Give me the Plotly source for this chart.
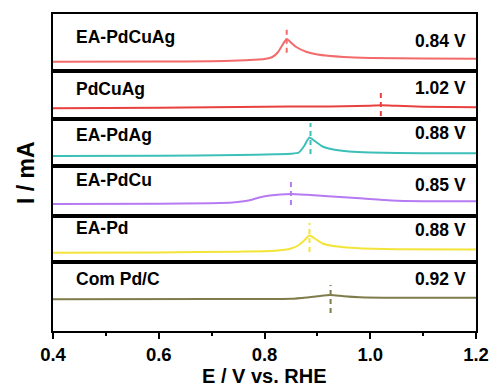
import plotly.graph_objects as go
from plotly.subplots import make_subplots

# ---- data (potential in V vs. RHE, current in arbitrary mA units, offset per panel) ----
samples = ["EA-PdCuAg", "PdCuAg", "EA-PdAg", "EA-PdCu", "EA-Pd", "Com Pd/C"]
peak_labels = ["0.84 V", "1.02 V", "0.88 V", "0.85 V", "0.88 V", "0.92 V"]
peak_potentials = [0.842, 1.02, 0.887, 0.85, 0.885, 0.925]
colors = ["#F26A6A", "#E8413F", "#3DBFB9", "#B67BF2", "#F4E43A", "#7F7C4B"]

e_ea_pdcuag = [0.40, 0.60, 0.70, 0.75, 0.78, 0.80, 0.815, 0.825, 0.835, 0.842, 0.85, 0.86, 0.88, 0.90, 0.95, 1.00, 1.10, 1.20]
i_ea_pdcuag = [0.93, 0.95, 0.98, 1.05, 1.12, 1.20, 1.40, 1.85, 2.70, 3.20, 2.85, 2.40, 1.90, 1.65, 1.40, 1.30, 1.25, 1.23]

e_pdcuag = [0.40, 0.60, 0.70, 0.80, 0.90, 0.95, 1.00, 1.02, 1.05, 1.10, 1.20]
i_pdcuag = [1.07, 1.12, 1.17, 1.23, 1.25, 1.27, 1.33, 1.37, 1.32, 1.23, 1.17]

e_ea_pdag = [0.40, 0.60, 0.75, 0.82, 0.85, 0.865, 0.875, 0.885, 0.895, 0.91, 0.93, 0.96, 1.00, 1.10, 1.20]
i_ea_pdag = [1.00, 1.02, 1.10, 1.17, 1.22, 1.35, 2.00, 2.85, 2.50, 1.95, 1.65, 1.45, 1.35, 1.28, 1.27]

e_ea_pdcu = [0.40, 0.60, 0.70, 0.74, 0.77, 0.79, 0.81, 0.85, 0.88, 0.92, 0.98, 1.04, 1.10, 1.20]
i_ea_pdcu = [1.20, 1.23, 1.28, 1.35, 1.55, 1.85, 2.05, 2.20, 2.12, 1.97, 1.77, 1.55, 1.48, 1.48]

e_ea_pd = [0.40, 0.60, 0.75, 0.82, 0.85, 0.865, 0.875, 0.885, 0.895, 0.91, 0.93, 0.98, 1.05, 1.20]
i_ea_pd = [0.93, 0.96, 1.03, 1.12, 1.35, 1.70, 2.15, 2.65, 2.35, 1.85, 1.60, 1.37, 1.28, 1.25]

e_com_pdc = [0.40, 0.70, 0.85, 0.88, 0.90, 0.925, 0.95, 0.98, 1.05, 1.20]
i_com_pdc = [3.17, 3.20, 3.22, 3.35, 3.47, 3.60, 3.47, 3.37, 3.32, 3.33]

# dashed peak markers: [low, high] current span
marker_spans = [[1.83, 4.43], [0.30, 3.00], [1.20, 4.30], [1.10, 3.80], [1.00, 3.90], [1.80, 4.60]]
panel_ranges = [5.7, 4.8, 4.7, 5.0, 4.6, 6.9]
label_y = [0.60, 0.62, 0.67, 0.72, 0.73, 0.75]
value_y = [0.53, 0.64, 0.70, 0.62, 0.70, 0.75]

x_ticks = [0.4, 0.6, 0.8, 1.0, 1.2]
x_tick_text = ["0.4", "0.6", "0.8", "1.0", "1.2"]

curves = [
    (e_ea_pdcuag, i_ea_pdcuag),
    (e_pdcuag, i_pdcuag),
    (e_ea_pdag, i_ea_pdag),
    (e_ea_pdcu, i_ea_pdcu),
    (e_ea_pd, i_ea_pd),
    (e_com_pdc, i_com_pdc),
]

FONT = "Liberation Sans, Arial, sans-serif"

fig = make_subplots(rows=6, cols=1, shared_xaxes=True, vertical_spacing=0,
                    row_heights=panel_ranges)

for k, ((ex, iy), name, col, pk, span) in enumerate(zip(curves, samples, colors, peak_potentials, marker_spans)):
    r = k + 1
    fig.add_trace(go.Scatter(x=ex, y=iy, mode="lines", name=name,
                             line=dict(color=col, width=2, shape="spline", smoothing=0.6),
                             showlegend=False), row=r, col=1)
    fig.add_trace(go.Scatter(x=[pk, pk], y=span, mode="lines",
                             line=dict(color=col, width=2, dash="5px,4px"),
                             showlegend=False), row=r, col=1)
    fig.update_yaxes(range=[0, panel_ranges[k]], showticklabels=False, ticks="",
                     showgrid=False, zeroline=False, showline=True, mirror=True,
                     linecolor="black", linewidth=1.6, row=r, col=1)
    xs = "" if r == 1 else str(r)
    fig.add_annotation(xref=f"x{xs} domain", yref=f"y{xs} domain", x=0.05, y=label_y[k],
                       text=f"<b>{name}</b>", showarrow=False, xanchor="left", yanchor="middle",
                       font=dict(family=FONT, size=17.5, color="black"))
    fig.add_annotation(xref=f"x{xs} domain", yref=f"y{xs} domain", x=0.981, y=value_y[k],
                       text=f"<b>{peak_labels[k]}</b>", showarrow=False, xanchor="right", yanchor="middle",
                       font=dict(family=FONT, size=17.5, color="black"))

fig.update_xaxes(range=[0.4, 1.2], showgrid=False, zeroline=False, showline=True, mirror=True,
                 linecolor="black", linewidth=1.6, showticklabels=False, ticks="")
fig.update_xaxes(row=6, col=1, showticklabels=True, ticks="outside", ticklen=6, tickwidth=1.5,
                 tickcolor="black", tickvals=x_ticks, ticktext=x_tick_text,
                 tickfont=dict(family=FONT, size=18.5, color="black", weight="bold"),
                 ticklabelstandoff=0,
                 minor=dict(ticks="outside", ticklen=3, tickwidth=1.5, tickcolor="black", dtick=0.1, showgrid=False))

fig.add_annotation(xref="paper", yref="paper", x=0.5, y=-0.143, text="<b>E / V vs. RHE</b>",
                   showarrow=False, xanchor="center", yanchor="middle",
                   font=dict(family=FONT, size=20, color="black"))
fig.add_annotation(xref="paper", yref="paper", x=-28 / 432, y=0.5, text="<b>I / mA</b>", textangle=-90,
                   showarrow=False, xanchor="center", yanchor="middle",
                   font=dict(family=FONT, size=23, color="black"))

fig.update_layout(width=501, height=392, margin=dict(l=53, r=16, t=14, b=61),
                  paper_bgcolor="white", plot_bgcolor="white")

fig.write_html("out.html")
